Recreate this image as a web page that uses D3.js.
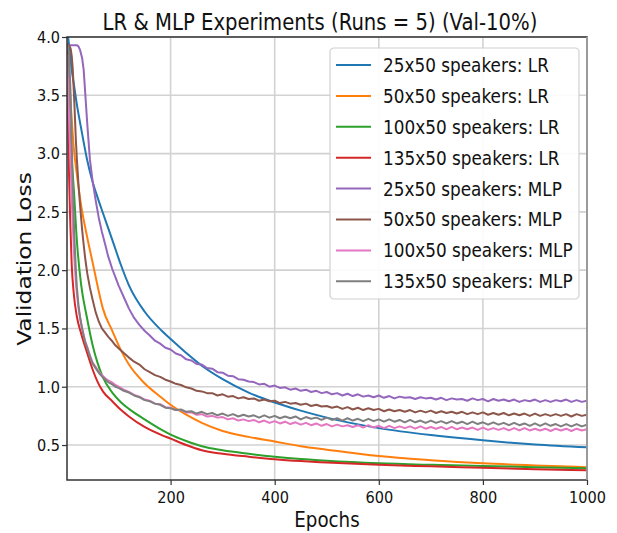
<!DOCTYPE html>
<html>
<head>
<meta charset="utf-8">
<script src="https://cdn.jsdelivr.net/npm/d3@7"></script>
<style>
body{margin:0;background:#fff;}
text{font-family:"DejaVu Sans",sans-serif;fill:#111;}
</style>
</head>
<body>
<div id="Chart"></div>
<script>
// series names, same order as the legend
var names=["25x50 speakers: LR","50x50 speakers: LR","100x50 speakers: LR","135x50 speakers: LR",
  "25x50 speakers: MLP","50x50 speakers: MLP","100x50 speakers: MLP","135x50 speakers: MLP"]
var colors=["#1f77b4","#ff7f0e","#2ca02c","#d62728","#9467bd","#8c564b","#e377c2","#7f7f7f"]

var xTicks=[200,400,600,800,1000]
var yTicks=[0.5,1.0,1.5,2.0,2.5,3.0,3.5,4.0]

// LR runs are smooth, read at a few epochs
var epochsLR=[1,2,3,5,7,10,14,20,28,39,50,60,70,88,105,120,150,183,200,230,260,300,350,400,450,500,600,700,800,900,1000]
var lr25=[4.05,4.02,4.0,3.93,3.84,3.72,3.6,3.42,3.22,2.96,2.76,2.62,2.49,2.26,2.04,1.87,1.645,1.48,1.41,1.29,1.18,1.065,0.95,0.865,0.795,0.735,0.645,0.585,0.54,0.505,0.48]
var lr50=[3.95,3.88,3.8,3.62,3.5,3.3,3.05,2.82,2.56,2.3,2.07,1.86,1.67,1.48,1.31,1.19,1.03,0.905,0.845,0.76,0.69,0.62,0.57,0.53,0.49,0.46,0.405,0.37,0.343,0.325,0.31]
var lr100=[3.95,3.82,3.68,3.4,3.15,2.95,2.7,2.25,1.88,1.6,1.36,1.2,1.08,0.95,0.865,0.81,0.72,0.63,0.59,0.535,0.49,0.455,0.425,0.40,0.38,0.365,0.343,0.33,0.32,0.31,0.30]
var lr135=[3.9,3.6,3.3,2.8,2.45,2.05,1.8,1.6,1.46,1.3,1.15,1.04,0.96,0.875,0.8,0.745,0.655,0.585,0.555,0.5,0.455,0.425,0.4,0.378,0.362,0.35,0.33,0.317,0.305,0.293,0.283]

// MLP runs are noisy, read every 10 epochs after 100
var epochsMLP=[1,3,5,8,10,12,15,18,20,23,26,30,33,36,40,45,50,56,62,68,75,80,88,94,
  100,110,120,130,140,150,160,170,180,190,200,210,220,230,240,250,260,270,280,290,
  300,310,320,330,340,350,360,370,380,390,400,410,420,430,440,450,460,470,480,490,
  500,510,520,530,540,550,560,570,580,590,600,610,620,630,640,650,660,670,680,690,
  700,710,720,730,740,750,760,770,780,790,800,810,820,830,840,850,860,870,880,890,
  900,910,920,930,940,950,960,970,980,990,1000]
var mlp25=[3.88,3.91,3.93,3.93,3.93,3.93,3.93,3.93,3.93,3.92,3.89,3.82,3.72,3.52,3.25,2.95,2.77,2.6,2.45,2.33,2.21,2.12,2.01,1.94,
  1.87,1.77,1.67,1.59,1.53,1.48,1.44,1.395,1.37,1.335,
  1.32,1.285,1.27,1.235,1.225,1.195,1.19,1.16,1.155,1.125,
  1.12,1.095,1.09,1.065,1.06,1.045,1.04,1.02,1.025,1.0,
  1.01,0.99,0.995,0.975,0.985,0.965,0.975,0.955,0.965,0.945,
  0.955,0.935,0.945,0.925,0.94,0.92,0.935,0.915,0.925,0.91,
  0.925,0.905,0.92,0.9,0.915,0.905,0.91,0.895,0.91,0.9,
  0.905,0.89,0.905,0.885,0.9,0.89,0.895,0.88,0.9,0.885,
  0.895,0.875,0.895,0.88,0.89,0.875,0.89,0.87,0.885,0.875,
  0.89,0.87,0.885,0.87,0.885,0.875,0.89,0.87,0.885,0.87,0.88]
var mlp50=[3.92,3.93,3.93,3.9,3.84,3.73,3.45,3.12,2.95,2.74,2.56,2.35,2.22,2.1,1.97,1.85,1.75,1.64,1.56,1.5,1.46,1.43,1.39,1.355,
  1.33,1.29,1.25,1.215,1.19,1.15,1.125,1.1,1.085,1.06,
  1.045,1.025,1.015,0.995,0.985,0.965,0.96,0.945,0.945,0.925,
  0.935,0.915,0.92,0.9,0.91,0.895,0.9,0.88,0.89,0.875,
  0.88,0.86,0.87,0.855,0.86,0.845,0.855,0.835,0.845,0.83,
  0.835,0.82,0.83,0.81,0.825,0.805,0.82,0.8,0.815,0.8,
  0.81,0.79,0.805,0.79,0.8,0.785,0.8,0.78,0.795,0.78,
  0.795,0.775,0.79,0.775,0.785,0.77,0.785,0.765,0.78,0.765,
  0.78,0.76,0.775,0.76,0.775,0.755,0.77,0.755,0.77,0.75,
  0.77,0.75,0.765,0.75,0.765,0.75,0.765,0.745,0.765,0.75,0.76]
var mlp100=[3.85,3.6,3.3,2.9,2.62,2.4,2.1,1.9,1.8,1.68,1.59,1.5,1.44,1.39,1.34,1.27,1.21,1.17,1.13,1.1,1.07,1.055,1.035,1.015,
  1.0,0.975,0.955,0.93,0.915,0.89,0.88,0.855,0.85,0.825,
  0.82,0.8,0.8,0.78,0.78,0.76,0.765,0.745,0.75,0.735,
  0.74,0.72,0.73,0.71,0.72,0.705,0.715,0.695,0.71,0.69,
  0.705,0.685,0.7,0.68,0.695,0.675,0.69,0.67,0.685,0.665,
  0.68,0.66,0.675,0.66,0.67,0.655,0.67,0.65,0.67,0.65,
  0.665,0.645,0.665,0.645,0.66,0.645,0.66,0.64,0.66,0.64,
  0.655,0.64,0.655,0.635,0.655,0.635,0.65,0.635,0.65,0.63,
  0.65,0.63,0.645,0.63,0.645,0.625,0.645,0.625,0.645,0.625,
  0.64,0.625,0.64,0.62,0.64,0.625,0.64,0.62,0.64,0.625,0.635]
var mlp135=[3.93,3.92,3.85,3.5,3.1,2.75,2.3,2.0,1.85,1.7,1.6,1.5,1.44,1.38,1.33,1.26,1.2,1.16,1.12,1.09,1.06,1.04,1.02,1.0,
  0.99,0.965,0.95,0.925,0.91,0.885,0.875,0.855,0.845,0.82,
  0.815,0.8,0.805,0.785,0.79,0.77,0.785,0.765,0.775,0.755,
  0.77,0.75,0.765,0.745,0.76,0.745,0.755,0.735,0.755,0.735,
  0.75,0.73,0.745,0.73,0.745,0.72,0.74,0.725,0.735,0.715,
  0.735,0.715,0.73,0.71,0.73,0.71,0.725,0.705,0.725,0.705,
  0.72,0.7,0.72,0.7,0.715,0.695,0.715,0.695,0.71,0.69,
  0.71,0.69,0.705,0.685,0.705,0.685,0.7,0.68,0.7,0.68,
  0.695,0.675,0.695,0.675,0.69,0.67,0.69,0.67,0.685,0.665,
  0.685,0.665,0.685,0.665,0.68,0.66,0.68,0.66,0.68,0.66,0.675]

var series=[lr25,lr50,lr100,lr135,mlp25,mlp50,mlp100,mlp135].map((vals,i)=>{
  var ep=i<4?epochsLR:epochsMLP
  if(ep.length!==vals.length) console.error("length mismatch",names[i],ep.length,vals.length)
  return {name:names[i],color:colors[i],mlp:i>=4,points:vals.map((v,j)=>[ep[j],v])}
})

// the source picture is stretched vertically, so text is drawn tall and narrowed back
var stretch=1.15
function squish(sel){
  sel.each(function(){
    var len=this.getComputedTextLength()
    d3.select(this).attr("textLength",len/stretch).attr("lengthAdjust","spacingAndGlyphs")
  })
}

var margin={top:37,right:30,bottom:53,left:67},
  Width=617,
  Height=533,
  width=Width-margin.left-margin.right,
  height=Height-margin.top-margin.bottom

var root=d3.select("#Chart").append("svg")
  .attr("width",Width)
  .attr("height",Height)
var svg=root.append("g")
  .attr("transform",`translate(${margin.left},${margin.top})`)

var X=d3.scaleLinear().domain([1,1000]).range([0,width])
var Y=d3.scaleLinear().domain([0.2,4.0]).range([height,0])

// grid
svg.append("g").selectAll("line").data(xTicks).enter().append("line")
  .attr("x1",d=>X(d)).attr("x2",d=>X(d)).attr("y1",0).attr("y2",height)
  .attr("stroke","#d2d2d2").attr("stroke-width",1.6)
svg.append("g").selectAll("line").data(yTicks).enter().append("line")
  .attr("x1",0).attr("x2",width).attr("y1",d=>Y(d)).attr("y2",d=>Y(d))
  .attr("stroke","#d2d2d2").attr("stroke-width",1.6)

svg.append("defs").append("clipPath").attr("id","clip")
  .append("rect").attr("width",width).attr("height",height)

var smooth=d3.line().x(d=>X(d[0])).y(d=>Y(d[1])).curve(d3.curveMonotoneX)
var jagged=d3.line().x(d=>X(d[0])).y(d=>Y(d[1])).curve(d3.curveLinear)
svg.append("g").attr("clip-path","url(#clip)")
  .selectAll("path").data(series).enter().append("path")
    .attr("d",d=>d.mlp?jagged(d.points):smooth(d.points))
    .attr("fill","none")
    .attr("stroke",d=>d.color)
    .attr("stroke-width",2)
    .attr("stroke-linejoin","round")

// spines
svg.append("rect").attr("width",width).attr("height",height)
  .attr("fill","none").attr("stroke","#333").attr("stroke-width",1.5)
svg.append("line").attr("x1",width).attr("x2",width).attr("y1",0).attr("y2",height)
  .attr("stroke","#aaa").attr("stroke-width",1.6)

// axes
var xAxis=svg.append("g")
  .attr("transform",`translate(0,${height})`)
  .call(d3.axisBottom(X).tickValues(xTicks).tickSize(5).tickPadding(6).tickFormat(d3.format("d")))
var yAxis=svg.append("g")
  .call(d3.axisLeft(Y).tickValues(yTicks).tickSize(5).tickPadding(2).tickFormat(d3.format(".1f")))
;[xAxis,yAxis].forEach(a=>{
  a.select(".domain").remove()
  a.selectAll(".tick line").attr("stroke","#333").attr("stroke-width",1.2)
  a.selectAll("text").attr("font-size","16.7px").attr("fill","#111").call(squish)
})

// titles
root.append("text")
  .attr("x",320).attr("y",30)
  .attr("text-anchor","middle")
  .attr("font-size","22.6px")
  .text("LR & MLP Experiments (Runs = 5) (Val-10%)")
  .call(squish)
root.append("text")
  .attr("x",327).attr("y",527)
  .attr("text-anchor","middle")
  .attr("font-size","21px")
  .text("Epochs")
  .call(squish)
root.append("text")
  .attr("transform","translate(31,259)rotate(-90)")
  .attr("text-anchor","middle")
  .attr("font-size","20px")
  .attr("textLength",7.546*20*stretch)
  .attr("lengthAdjust","spacingAndGlyphs")
  .text("Validation Loss")

// legend
var legend=root.append("g").attr("transform","translate(330,48)")
legend.append("rect")
  .attr("width",249).attr("height",251).attr("rx",4)
  .attr("fill","#fff").attr("fill-opacity",0.9)
  .attr("stroke","#d0d0d0").attr("stroke-width",1.2)
var item=legend.selectAll(".item").data(series).enter().append("g")
  .attr("class","item")
  .attr("transform",(d,i)=>`translate(0,${17+i*30.9})`)
item.append("line")
  .attr("x1",6).attr("x2",41)
  .attr("stroke",d=>d.color).attr("stroke-width",2)
item.append("text")
  .attr("x",53).attr("dy","0.36em")
  .attr("font-size","19.4px")
  .text(d=>d.name)
  .call(squish)
</script>
</body>
</html>
